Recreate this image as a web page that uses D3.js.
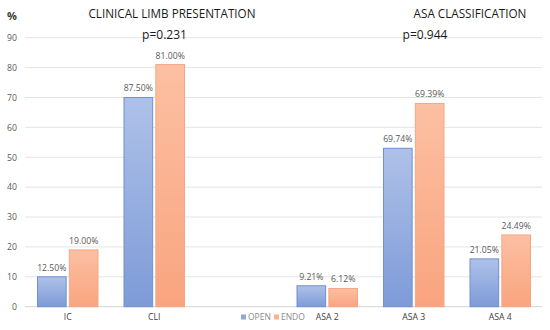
<!DOCTYPE html>
<html lang="en">
<head>
<meta charset="UTF-8">
<title>Clinical limb presentation / ASA classification</title>
<script src="https://cdn.jsdelivr.net/npm/d3@7"></script>
<style>
  body { margin: 0; background: #fff; }
  text { font-family: "Open Sans", "DejaVu Sans", sans-serif; }
</style>
</head>
<body>
<svg width="550" height="330"></svg>
<script>
// data (bar heights as drawn, labels as printed)
var categories = ["IC", "CLI", "", "ASA 2", "ASA 3", "ASA 4"];
var series = ["OPEN", "ENDO"];
var openValues = [10, 70, null, 7, 53, 16];
var endoValues = [19, 81, null, 6.1, 68, 24];
var openLabels = ["12.50%", "87.50%", "", "9.21%", "69.74%", "21.05%"];
var endoLabels = ["19.00%", "81.00%", "", "6.12%", "69.39%", "24.49%"];
var yTicks = [0, 10, 20, 30, 40, 50, 60, 70, 80, 90];
var titles = ["CLINICAL LIMB PRESENTATION", "ASA CLASSIFICATION"];
var pValues = ["p=0.231", "p=0.944"];

var svg = d3.select("svg");

// gradients like the office-style bars
var defs = svg.append("defs");
var grad = [
  {id: "gOpen", top: "#aec1e8", bottom: "#7e9bd8"},
  {id: "gEndo", top: "#fcc0a2", bottom: "#f9a47f"}
];
grad.forEach(function (g) {
  var lg = defs.append("linearGradient").attr("id", g.id)
    .attr("x1", 0).attr("y1", 0).attr("x2", 0).attr("y2", 1);
  lg.append("stop").attr("offset", "0%").attr("stop-color", g.top);
  lg.append("stop").attr("offset", "100%").attr("stop-color", g.bottom);
});

var x = d3.scaleBand().domain(d3.range(categories.length)).range([24.5, 543.5]);
var y = d3.scaleLinear().domain([0, 90]).range([306.7, 37.7]);
var inner = d3.scaleBand().domain(series).range([13, x.bandwidth() - 13]).paddingInner(0.1);

// gridlines
svg.append("g").selectAll("line").data(yTicks).enter().append("line")
  .attr("x1", 25).attr("x2", 542)
  .attr("y1", function (d) { return y(d); })
  .attr("y2", function (d) { return y(d); })
  .attr("stroke", function (d) { return d === 0 ? "#d4d4d4" : "#e4e4e4"; })
  .attr("stroke-width", 1);

// y axis labels
var yAxis = d3.axisLeft(y).tickValues(yTicks).tickSize(0).tickPadding(0);
var ya = svg.append("g").attr("transform", "translate(17,0)").call(yAxis);
ya.select(".domain").remove();
ya.selectAll("text").attr("font-size", 8.7).attr("fill", "#595959")
  .style("font-family", "'Open Sans', sans-serif");

svg.append("text").attr("x", 7).attr("y", 20).text("%")
  .attr("font-size", 11).attr("font-weight", "bold").attr("fill", "#404040");

// x axis labels
var xAxis = d3.axisBottom(x).tickFormat(function (i) { return categories[i]; }).tickSize(0).tickPadding(7);
var xa = svg.append("g").attr("transform", "translate(0,306.7)").call(xAxis);
xa.select(".domain").remove();
xa.selectAll("text").attr("font-size", 8.7).attr("fill", "#404040")
  .style("font-family", "'Open Sans', sans-serif");

// bars
var rows = categories.map(function (c, i) {
  return [
    {s: "OPEN", i: i, v: openValues[i], lab: openLabels[i]},
    {s: "ENDO", i: i, v: endoValues[i], lab: endoLabels[i]}
  ];
});
var flat = d3.merge(rows).filter(function (d) { return d.v !== null; });

svg.append("g").selectAll("rect").data(flat).enter().append("rect")
  .attr("x", function (d) { return x(d.i) + inner(d.s); })
  .attr("y", function (d) { return y(d.v); })
  .attr("width", inner.bandwidth())
  .attr("height", function (d) { return y(0) - y(d.v); })
  .attr("fill", function (d) { return d.s === "OPEN" ? "url(#gOpen)" : "url(#gEndo)"; })
  .attr("stroke", function (d) { return d.s === "OPEN" ? "#7090d2" : "#f7a683"; })
  .attr("stroke-width", 1);

svg.append("g").selectAll("text").data(flat).enter().append("text")
  .attr("x", function (d) { return x(d.i) + inner(d.s) + inner.bandwidth() / 2; })
  .attr("y", function (d) { return y(d.v) - 6; })
  .attr("text-anchor", "middle")
  .attr("font-size", 8.7).attr("fill", "#595959")
  .text(function (d) { return d.lab; });

// titles and p values
var titleX = [172, 470];
var pX = [164.5, 425];
titles.forEach(function (t, k) {
  svg.append("text").attr("x", titleX[k]).attr("y", 18).attr("text-anchor", "middle")
    .attr("font-size", 11.7).attr("fill", "#1a1a1a").text(t);
  svg.append("text").attr("x", pX[k]).attr("y", 39).attr("text-anchor", "middle")
    .attr("font-size", 12).attr("fill", "#1a1a1a").text(pValues[k]);
});

// legend
var legend = svg.append("g").attr("transform", "translate(241,317)");
var legX = [0, 33];
series.forEach(function (s, k) {
  var g = legend.append("g").attr("transform", "translate(" + legX[k] + ",0)");
  g.append("rect").attr("x", 0).attr("y", -2.5).attr("width", 5).attr("height", 5)
    .attr("fill", s === "OPEN" ? "#8ea8de" : "#fbb393");
  g.append("text").attr("x", 7).attr("y", 3).attr("font-size", 8.5).attr("fill", "#8c8c8c").text(s);
});
</script>
</body>
</html>
